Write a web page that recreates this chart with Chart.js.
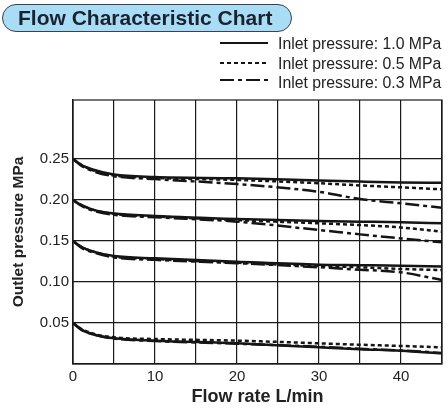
<!DOCTYPE html>
<html>
<head>
<meta charset="utf-8">
<script src="https://cdn.jsdelivr.net/npm/chart.js@4"></script>
<style>
  body { margin: 0; background: #fff; font-family: "Liberation Sans", Arial, sans-serif; }
  #wrap { position: relative; width: 448px; height: 412px; }
  #title {
    position: absolute; left: 2px; top: 4px; width: 290px; height: 28px;
    background: #a9dcf5; border: 1.5px solid #3a4150; border-radius: 14px;
    font-weight: bold; font-size: 21px; color: #1a2230; line-height: 26px;
    padding-left: 15px; box-sizing: border-box;
  }
  #legend { position: absolute; left: 218px; top: 34px; font-size: 15.8px; color: #222; }
  .row { position: relative; height: 19.5px; line-height: 19.5px; padding-left: 60px; white-space: nowrap; }
  .row svg { position: absolute; left: 0; top: 0; }
  canvas { position: absolute; left: 0; top: 0; }
</style>
</head>
<body>
<div id="wrap">
  <canvas id="chart" width="448" height="412"></canvas>
  <div id="title">Flow Characteristic Chart</div>
  <div id="legend"></div>
</div>
<script>
// flow rate L/min
const flowRates = [0, 1, 2.5, 5, 10, 20, 30, 35, 40, 45];

// set pressure 0.25 MPa
const p25_in10 = [0.25, 0.243, 0.237, 0.231, 0.228, 0.2265, 0.2237, 0.2225, 0.2215, 0.221];
const p25_in05 = [0.25, 0.243, 0.236, 0.230, 0.227, 0.2245, 0.2205, 0.2178, 0.2155, 0.213];
const p25_in03 = [0.25, 0.242, 0.235, 0.229, 0.2255, 0.2195, 0.210, 0.2012, 0.196, 0.1906];

// set pressure 0.20 MPa
const p20_in10 = [0.20, 0.194, 0.188, 0.1835, 0.1805, 0.1768, 0.1744, 0.1736, 0.1728, 0.1716];
const p20_in05 = [0.20, 0.194, 0.188, 0.183, 0.180, 0.1755, 0.1716, 0.1695, 0.1665, 0.1614];
const p20_in03 = [0.20, 0.193, 0.187, 0.182, 0.179, 0.1736, 0.1634, 0.1581, 0.1532, 0.1484];

// set pressure 0.15 MPa
const p15_in10 = [0.15, 0.143, 0.137, 0.1317, 0.1289, 0.1248, 0.1211, 0.1205, 0.1199, 0.119];
const p15_in05 = [0.15, 0.143, 0.137, 0.131, 0.128, 0.1235, 0.1195, 0.118, 0.1159, 0.1146];
const p15_in03 = [0.15, 0.142, 0.136, 0.130, 0.127, 0.123, 0.118, 0.115, 0.1118, 0.1024];

// set pressure 0.05 MPa
const p05_in10 = [0.05, 0.042, 0.036, 0.0313, 0.0285, 0.0252, 0.0204, 0.018, 0.0163, 0.013];
const p05_in05 = [0.05, 0.043, 0.037, 0.0325, 0.0305, 0.0285, 0.0252, 0.0235, 0.022, 0.0203];
const p05_in03 = [0.05, 0.042, 0.036, 0.031, 0.028, 0.0248, 0.021, 0.0185, 0.0165, 0.0135];

const yTicks = [0.05, 0.10, 0.15, 0.20, 0.25];
const xLabels = [0, 10, 20, 30, 40];

const legendLabels = ['Inlet pressure: 1.0 MPa', 'Inlet pressure: 0.5 MPa', 'Inlet pressure: 0.3 MPa'];
const dashes = [[], [4, 3], [14, 4, 4, 4]];

const groups = [
  [p25_in10, p25_in05, p25_in03],
  [p20_in10, p20_in05, p20_in03],
  [p15_in10, p15_in05, p15_in03],
  [p05_in10, p05_in05, p05_in03]
];

const datasets = [];
groups.forEach(g => {
  g.forEach((vals, i) => {
    datasets.push({
      label: legendLabels[i],
      data: vals.map((v, k) => ({ x: flowRates[k], y: v })),
      borderColor: '#151515',
      borderWidth: 2.5,
      borderDash: dashes[i],
      pointRadius: 0,
      cubicInterpolationMode: 'monotone',
      fill: false
    });
  });
});

// html legend
const legend = document.getElementById('legend');
legendLabels.forEach((lab, i) => {
  const row = document.createElement('div');
  row.className = 'row';
  const yy = i == 2 ? 7 : 9;
  row.innerHTML = '<svg width="52" height="20"><line x1="2" y1="' + yy + '" x2="50" y2="' + yy +
    '" stroke="#151515" stroke-width="2" stroke-dasharray="' + (dashes[i].join(',') || 'none') + '"/></svg>' + lab;
  legend.appendChild(row);
});

const ctx = document.getElementById('chart');
new Chart(ctx, {
  type: 'line',
  data: { datasets: datasets },
  options: {
    responsive: false,
    animation: false,
    layout: { padding: { top: 100, left: 0, right: 6, bottom: 0 } },
    plugins: { legend: { display: false }, tooltip: { enabled: false } },
    scales: {
      x: {
        type: 'linear',
        min: 0,
        max: 45,
        ticks: {
          stepSize: 5,
          color: '#222',
          font: { family: 'Liberation Sans', size: 15 },
          padding: 4,
          maxRotation: 0,
          callback: v => xLabels.includes(v) ? String(v) : ''
        },
        grid: { color: '#1a1a1a', lineWidth: 1.2, drawTicks: false },
        border: { color: '#1a1a1a', width: 1.2 },
        title: {
          display: true, text: 'Flow rate L/min', color: '#222',
          font: { family: 'Liberation Sans', size: 18, weight: 'bold' }, padding: { top: 2 }
        },
        afterFit: s => { s.height = 48; }
      },
      y: {
        type: 'linear',
        min: 0,
        max: 0.322,
        afterBuildTicks: s => { s.ticks = yTicks.map(v => ({ value: v })); },
        ticks: {
          color: '#222',
          font: { family: 'Liberation Sans', size: 15 },
          padding: 4,
          callback: v => v.toFixed(2)
        },
        grid: { color: '#1a1a1a', lineWidth: 1.2, drawTicks: false },
        border: { color: '#1a1a1a', width: 1.2 },
        title: {
          display: true, text: 'Outlet pressure MPa', color: '#222',
          font: { family: 'Liberation Sans', size: 15.5, weight: 'bold' }, padding: { top: 9 }
        },
        afterFit: s => { s.width = 73; }
      }
    }
  },
  plugins: [{
    id: 'frame',
    afterDraw(chart) {
      const a = chart.chartArea, c = chart.ctx;
      c.save();
      c.strokeStyle = '#1a1a1a';
      c.lineWidth = 1.2;
      c.strokeRect(a.left, a.top, a.right - a.left, a.bottom - a.top);
      c.restore();
    }
  }]
});
</script>
</body>
</html>
